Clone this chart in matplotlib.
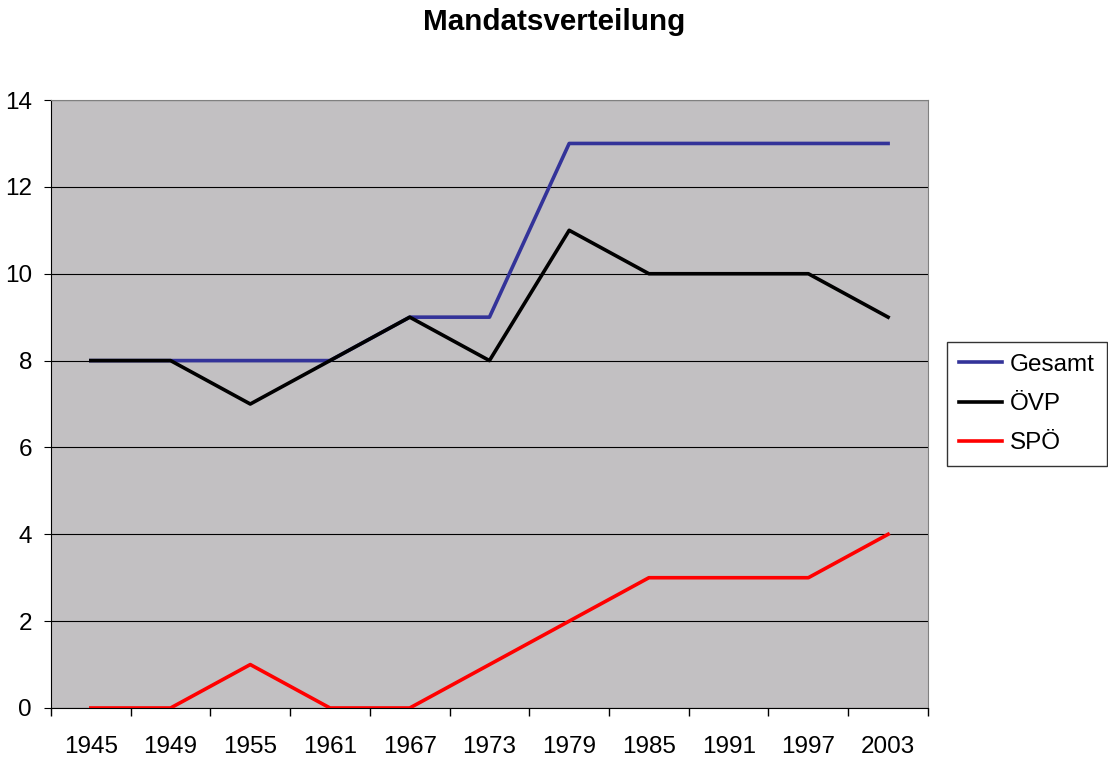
import matplotlib.pyplot as plt
import numpy as np

plt.rcParams['font.family'] = ['Liberation Sans', 'DejaVu Sans']

# data
jahre = ['1945', '1949', '1955', '1961', '1967', '1973', '1979', '1985', '1991', '1997', '2003']
gesamt = [8, 8, 8, 8, 9, 9, 13, 13, 13, 13, 13]
oevp = [8, 8, 7, 8, 9, 8, 11, 10, 10, 10, 9]
spoe = [0, 0, 1, 0, 0, 1, 2, 3, 3, 3, 4]

x = np.arange(len(jahre))

fig = plt.figure(figsize=(11.08, 7.59), dpi=100)
ax = fig.add_axes([0.046, 0.0672, 0.7915, 0.801])
ax.set_facecolor('#c2c0c2')

ax.plot(x, gesamt, color='#333399', lw=2.6, label='Gesamt', zorder=3)
ax.plot(x, oevp, color='black', lw=2.6, label='ÖVP', zorder=3)
ax.plot(x, spoe, color='#ff0000', lw=2.6, label='SPÖ', zorder=3)

ax.set_xlim(-0.5, len(jahre) - 0.5)
ax.set_ylim(0, 14)
ax.set_yticks(range(0, 15, 2))
ax.set_xticks(x)
ax.set_xticklabels(jahre)
ax.set_xticks(np.arange(-0.5, len(jahre), 1), minor=True)
ax.tick_params(axis='x', which='major', length=0, pad=20.5, labelsize=17.5)
ax.tick_params(axis='x', which='minor', length=6, direction='out', width=1)
ax.tick_params(axis='y', length=5, direction='out', pad=8.6, labelsize=17.5)

ax.yaxis.grid(True, color='black', lw=0.8)
ax.set_axisbelow(True)
for s in ['top', 'right']:
    ax.spines[s].set_color('#808080')
for s in ['left', 'bottom']:
    ax.spines[s].set_color('black')

fig.suptitle('Mandatsverteilung', fontsize=21.3, fontweight='bold', y=0.99)

leg = ax.legend(loc='center left', bbox_to_anchor=(1.0217, 0.5), fontsize=17.5,
                frameon=True, fancybox=False, handlelength=1.77, handletextpad=0.32,
                borderpad=0.5, labelspacing=0.7, borderaxespad=0)
leg.get_frame().set_edgecolor('black')
leg.get_frame().set_linewidth(1)

plt.savefig('out.png', dpi=100)
